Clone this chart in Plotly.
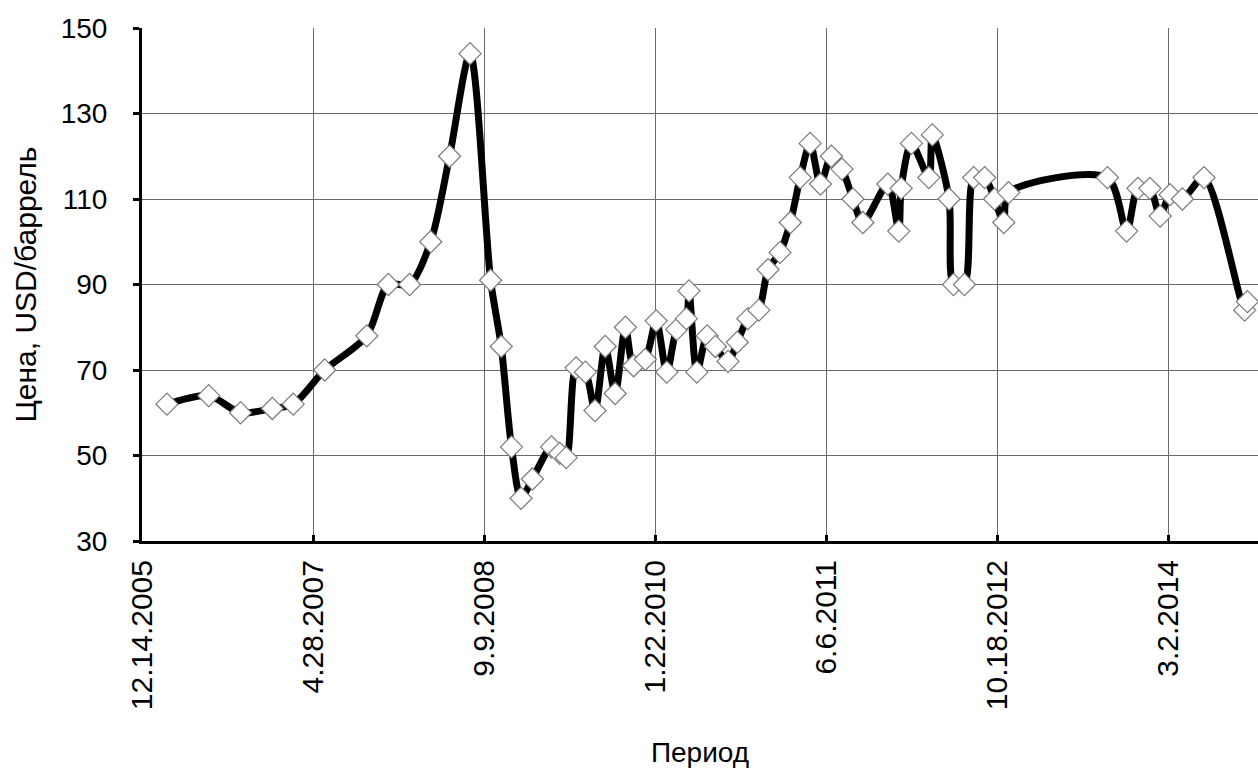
import plotly.graph_objects as go

# Oil price observations (USD per barrel)
dates = [
    "2006-02-25", "2006-06-27", "2006-09-28", "2006-12-30", "2007-03-01",
    "2007-06-01", "2007-10-02", "2007-12-04", "2008-02-04", "2008-04-06",
    "2008-05-31", "2008-07-30", "2008-09-28", "2008-10-29", "2008-11-28",
    "2008-12-26", "2009-01-28", "2009-03-25", "2009-04-18", "2009-05-07",
    "2009-06-05", "2009-07-02", "2009-07-30", "2009-08-29", "2009-09-27",
    "2009-10-27", "2009-11-20", "2009-12-24", "2010-01-25", "2010-02-25",
    "2010-03-26", "2010-04-23", "2010-05-01", "2010-05-24", "2010-06-23",
    "2010-07-17", "2010-08-23", "2010-09-19", "2010-10-20", "2010-11-21",
    "2010-12-18", "2011-01-22", "2011-02-21", "2011-03-22", "2011-04-20",
    "2011-05-20", "2011-06-21", "2011-07-22", "2011-08-23", "2011-09-21",
    "2011-12-03", "2012-01-04", "2012-01-11", "2012-02-10", "2012-04-01",
    "2012-04-11", "2012-05-30", "2012-06-12", "2012-07-14", "2012-08-10",
    "2012-09-11", "2012-10-10", "2012-11-06", "2012-11-20", "2013-09-05",
    "2013-10-31", "2013-12-03", "2014-01-07", "2014-02-06", "2014-03-07",
    "2014-04-12", "2014-06-14", "2014-10-11", "2014-10-19",
]
prices = [
    62, 64, 60, 61, 62,
    70, 78, 90, 90, 100,
    120, 144, 91, 75.5, 52,
    40, 44.5, 52, 50.5, 49.5,
    70.5, 69.5, 60.5, 75.5, 64.5,
    80, 71, 72.5, 81.5, 69.5,
    79.5, 82, 88.5, 69.5, 78,
    75.5, 72, 76.5, 82, 84,
    93.5, 97.5, 104.5, 115, 123,
    113.5, 120, 117, 110, 104.5,
    113.5, 102.5, 112.5, 123, 115,
    125, 110, 90, 90, 115,
    115, 110, 104.5, 111.5, 115,
    102.5, 112.5, 112.5, 106, 111,
    110, 115, 84, 86,
]

x_start = "2005-12-14"
x_end = "2014-11-19"
tick_step_days = 500
y_ticks = [30, 50, 70, 90, 110, 130, 150]

font_family = "Liberation Sans, Arial, sans-serif"
grid_color = "#6a6a6a"

fig = go.Figure(
    go.Scatter(
        x=dates,
        y=prices,
        mode="lines+markers",
        line=dict(color="black", width=7, shape="spline", smoothing=0.8),
        marker=dict(
            symbol="diamond",
            size=17,
            color="white",
            line=dict(color="#7a7a7a", width=1.2),
        ),
        hovertemplate="%{x|%-m.%-d.%Y}: %{y}<extra></extra>",
    )
)

fig.update_xaxes(
    type="date",
    range=[x_start, x_end],
    tick0=x_start,
    dtick=tick_step_days * 86400000,
    tickformat="%-m.%-d.%Y",
    tickangle=-90,
    tickfont=dict(family=font_family, size=30, color="black"),
    ticklabelstandoff=4,
    showgrid=True,
    gridcolor=grid_color,
    gridwidth=1,
    showline=True,
    linecolor="black",
    linewidth=3,
    ticks="inside",
    ticklen=6,
    tickwidth=3,
    tickcolor="black",
    title=dict(text="Период", font=dict(family=font_family, size=28, color="black"),
               standoff=34),
    automargin=False,
)

fig.update_yaxes(
    range=[30, 150],
    tickvals=y_ticks,
    tickfont=dict(family=font_family, size=28, color="black"),
    ticklabelstandoff=20,
    showgrid=True,
    gridcolor=grid_color,
    gridwidth=1,
    showline=True,
    linecolor="black",
    linewidth=3,
    ticks="outside",
    ticklen=6,
    tickwidth=3,
    tickcolor="black",
    zeroline=False,
    title=dict(text="Цена, USD/баррель",
               font=dict(family=font_family, size=30, color="black"),
               standoff=16),
    automargin=False,
)

fig.update_layout(
    width=1258,
    height=776,
    margin=dict(l=142, r=0, t=28, b=235),
    paper_bgcolor="white",
    plot_bgcolor="white",
    showlegend=False,
    font=dict(family=font_family, color="black"),
)

fig.write_html("out.html")
